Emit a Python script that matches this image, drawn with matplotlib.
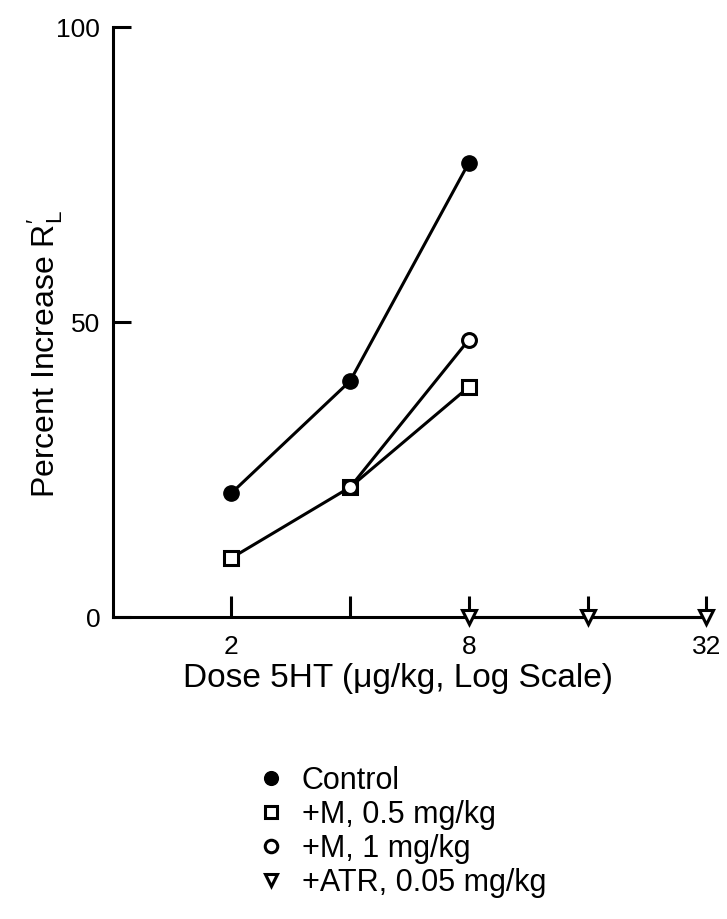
import numpy as np
import matplotlib
matplotlib.use("Agg")
from matplotlib import pyplot as plt
from matplotlib.ticker import FixedLocator, NullLocator, NullFormatter

plt.rcParams["font.family"] = ["Liberation Sans", "DejaVu Sans"]
plt.rcParams["mathtext.fontset"] = "custom"
plt.rcParams["mathtext.rm"] = "Liberation Sans"
plt.rcParams["mathtext.it"] = "Liberation Sans"

# dose of 5HT (ug/kg), percent increase in R_L
control_dose = [2, 4, 8]
control_resp = [21, 40, 77]
m05_dose = [2, 4, 8]
m05_resp = [10, 22, 39]
m1_dose = [4, 8]
m1_resp = [22, 47]
atr_dose = [8, 16, 32]
atr_resp = [0, 0, 0]

x_ticks = [2, 4, 8, 16, 32]
x_ticklabels = ["2", "", "8", "", "32"]
y_ticks = [0, 50, 100]

labels = ["Control", "+M, 0.5 mg/kg", "+M, 1 mg/kg", "+ATR, 0.05 mg/kg"]

fig = plt.figure(figsize=(7.27, 9.19), dpi=100)
ax = fig.add_axes([0.155, 0.3286, 0.818, 0.642])

lw = 2.2
h_ctrl, = ax.plot(control_dose, control_resp, color="black", lw=lw, marker="o",
                  ms=11, mfc="black", mec="black", zorder=4)
h_m05, = ax.plot(m05_dose, m05_resp, color="black", lw=lw, marker="s",
                 ms=10, mfc="white", mec="black", mew=2.2, zorder=3)
h_m1, = ax.plot(m1_dose, m1_resp, color="black", lw=lw, marker="o",
                ms=10, mfc="white", mec="black", mew=2.2, zorder=5)
h_atr, = ax.plot(atr_dose, atr_resp, color="black", lw=lw, marker="v",
                 ms=10, mfc="white", mec="black", mew=2.2, zorder=6, clip_on=False)

ax.set_xscale("log", base=2)
ax.set_xlim(1.0, 32.2)
ax.set_ylim(0, 100)

ax.xaxis.set_major_locator(FixedLocator(x_ticks))
ax.set_xticklabels(x_ticklabels)
ax.xaxis.set_minor_locator(NullLocator())
ax.xaxis.set_minor_formatter(NullFormatter())
ax.set_yticks(y_ticks)
ax.set_yticklabels([str(v) for v in y_ticks])

for s in ["top", "right"]:
    ax.spines[s].set_visible(False)
for s in ["left", "bottom"]:
    ax.spines[s].set_linewidth(2.2)

ax.tick_params(axis="x", direction="in", length=15, width=2.2, labelsize=19, pad=13)
ax.tick_params(axis="y", direction="in", length=13, width=2.2, labelsize=19, pad=9)

ax.set_xlabel("Dose 5HT (\u03bcg/kg, Log Scale)", fontsize=24)
ax.xaxis.set_label_coords(0.48, -0.078, transform=ax.transAxes)
ax.xaxis.label.set_va("top")
ax.set_ylabel("Percent Increase R$^{\\prime}_{\\mathrm{L}}$", fontsize=23)
ax.yaxis.set_label_coords(-0.08, 0.445)

leg = fig.legend([h_ctrl, h_m05, h_m1, h_atr], labels, loc="upper left",
                 bbox_to_anchor=(0.343, 0.19), frameon=False, fontsize=22,
                 handlelength=0, handletextpad=1.02, labelspacing=0.13,
                 markerscale=0.9, borderpad=0.2)

fig.savefig("out.png", dpi=100)
